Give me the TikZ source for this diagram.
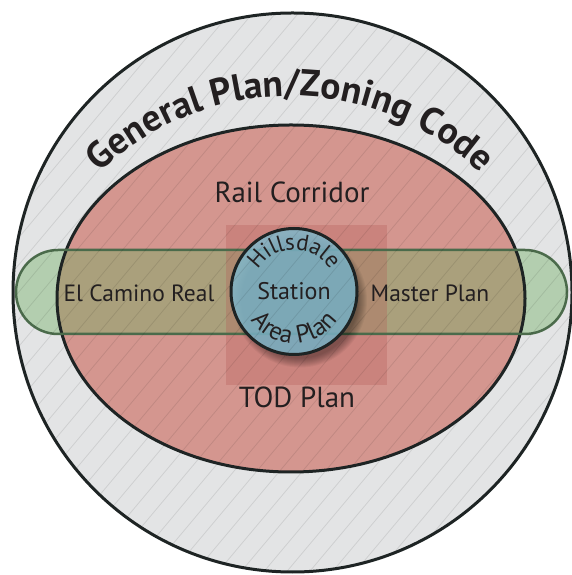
\documentclass[tikz,border=0pt]{standalone}
\usepackage{fontspec}
\setmainfont{PT Sans}
\usetikzlibrary{decorations.text,calc}
\definecolor{bggray}{RGB}{227,228,229}
\definecolor{railred}{RGB}{212,150,143}
\definecolor{edgedark}{RGB}{30,36,36}
\definecolor{capgreen}{RGB}{107,175,96}
\definecolor{capedge}{RGB}{75,107,75}
\definecolor{todred}{RGB}{180,90,85}
\definecolor{stationblue}{RGB}{127,183,202}
\definecolor{txtdark}{RGB}{35,31,32}
\tikzset{
  ringline/.style={draw=edgedark,line width=3pt},
  lbl/.style={text=txtdark,inner sep=0pt,font=\fontsize{23.5}{23.5}\selectfont},
  biglbl/.style={text=txtdark,inner sep=0pt,font=\fontsize{29}{29}\selectfont},
  hatchline/.style={draw=black,draw opacity=0.09,line width=0.8pt}
}
\begin{document}
\begin{tikzpicture}[x=1pt,y=1pt]
\useasboundingbox (0,0) rectangle (571,575);
\coordinate (C) at (292.5,282.5);
\coordinate (S) at (294,283.5);
\coordinate (E) at (291,276.5);
\coordinate (T) at (290,204);
% outer circle
\fill[bggray] (C) circle (279.5);
% rail corridor ellipse
\fill[railred] (E) ellipse [x radius=234,y radius=173.5];
% capsule
\fill[capgreen,fill opacity=0.4,rounded corners=42pt] (16,325) rectangle (567,241);
% TOD square
\fill[todred,fill opacity=0.3] (226,350) rectangle (387,190);
% ellipse border
\draw[ringline] (E) ellipse [x radius=234,y radius=173.5];
% capsule border
\draw[draw=capedge,line width=2.5pt,rounded corners=42pt] (16,325) rectangle (567,241);
% shadow of station circle
\foreach \i in {1,...,10} \fill[black,fill opacity=0.045] ($(S)+(6,-9)$) circle (57+\i);
% station circle
\fill[stationblue,fill opacity=0.85] (S) circle (63);
\draw[ringline] (S) circle (63);
% hatching
\begin{scope}
\clip (C) circle (279.5);
\foreach \k in {-34,...,34}
  \draw[hatchline] ($(C)+(140:\k*17.5)$) ++(50:-420) -- ++(50:840);
\end{scope}
\draw[ringline] (C) circle (279.5);
% curved titles
\path[decorate,decoration={text along path,text align=center,text color=txtdark,
  text={|\fontsize{37.5}{37.5}\selectfont\bfseries|General Plan/Zoning Code}}]
  ($(T)+(150:275)$) arc[start angle=150,end angle=30,radius=275];
\path[decorate,decoration={text along path,text align=center,text color=txtdark,
  text={|\fontsize{23}{23}\selectfont|Hillsdale}}]
  ($(S)+(168:42)$) arc[start angle=168,end angle=12,radius=42];
\path[decorate,decoration={text along path,text align=center,text color=txtdark,
  text={|\fontsize{25}{25}\selectfont|Area Plan}}]
  ($(S)+(190:52)$) arc[start angle=190,end angle=350,radius=52];
% labels
\node[lbl,font=\fontsize{24}{24}\selectfont] (station) at (S) {Station};
\node[biglbl] (rail) at (292,383) {Rail Corridor};
\node[biglbl] (tod) at (297,178) {TOD Plan};
\node[lbl] (ecr) at (139,282) {El Camino Real};
\node[lbl] (mp) at (430,282) {Master Plan};
\end{tikzpicture}
\end{document}
